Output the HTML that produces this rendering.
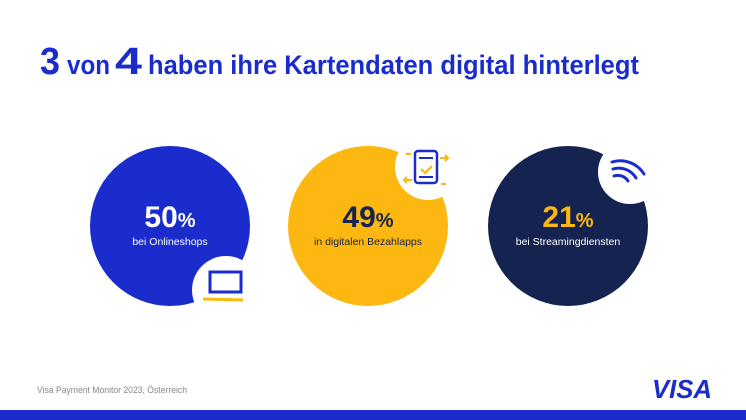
<!DOCTYPE html>
<html><head><meta charset="utf-8"><style>
html,body{margin:0;padding:0;background:#fff;}
svg{display:block}
</style></head><body>
<svg width="746" height="420" viewBox="0 0 746 420" xmlns="http://www.w3.org/2000/svg" font-family="Liberation Sans, sans-serif">
<rect width="746" height="420" fill="#fff"/>
<text x="40" y="74" fill="#1a2ccb" font-weight="bold"><tspan font-size="38" textLength="20" lengthAdjust="spacingAndGlyphs">3</tspan><tspan x="67" font-size="27" textLength="43" lengthAdjust="spacingAndGlyphs">von</tspan><tspan x="115" font-size="38" textLength="27" lengthAdjust="spacingAndGlyphs">4</tspan><tspan x="148" font-size="27" textLength="491" lengthAdjust="spacingAndGlyphs">haben ihre Kartendaten digital hinterlegt</tspan></text>

<circle cx="170" cy="226" r="80" fill="#1a2ccb"/>
<circle cx="226" cy="290" r="34" fill="#fff"/>
<rect x="210" y="272" width="31" height="20" fill="none" stroke="#1a2ccb" stroke-width="3"/>
<line x1="203" y1="299" x2="243" y2="300" stroke="#fcb711" stroke-width="3"/>
<text x="170" y="227" text-anchor="middle" fill="#fff" font-weight="bold"><tspan font-size="30">50</tspan><tspan font-size="20">%</tspan></text>
<text x="170" y="245" text-anchor="middle" fill="#fff" font-size="10.5">bei Onlineshops</text>

<circle cx="368" cy="226" r="80" fill="#fcb711"/>
<circle cx="428" cy="167" r="33" fill="#fff"/>
<rect x="415" y="151" width="22" height="32" rx="3" fill="none" stroke="#1a2ccb" stroke-width="2.5"/>
<line x1="419" y1="158" x2="433" y2="158" stroke="#1a2ccb" stroke-width="2"/>
<line x1="419" y1="177" x2="433" y2="177" stroke="#1a2ccb" stroke-width="2"/>
<path d="M421 169 l4 4 l7 -7" fill="none" stroke="#fcb711" stroke-width="2.2"/>
<path d="M440 158 h8 m-3 -3 l3 3 l-3 3" fill="none" stroke="#fcb711" stroke-width="2"/>
<path d="M412 180 h-8 m3 -3 l-3 3 l3 3" fill="none" stroke="#fcb711" stroke-width="2"/>
<line x1="406" y1="154" x2="411" y2="154" stroke="#fcb711" stroke-width="2"/>
<line x1="441" y1="184" x2="446" y2="184" stroke="#fcb711" stroke-width="2"/>
<text x="368" y="227" text-anchor="middle" fill="#14234f" font-weight="bold"><tspan font-size="30">49</tspan><tspan font-size="20">%</tspan></text>
<text x="368" y="245" text-anchor="middle" fill="#14234f" font-size="10.5">in digitalen Bezahlapps</text>

<circle cx="568" cy="226" r="80" fill="#14234f"/>
<circle cx="630" cy="172" r="32" fill="#fff"/>
<g fill="none" stroke="#1a2ccb" stroke-width="3" stroke-linecap="round">
<path d="M612 162 A28 28 0 0 1 644 174"/>
<path d="M613 169 A20 20 0 0 1 636 178"/>
<path d="M614 176 A12 12 0 0 1 628 181"/>
</g>
<text x="568" y="227" text-anchor="middle" fill="#fcb711" font-weight="bold"><tspan font-size="30">21</tspan><tspan font-size="20">%</tspan></text>
<text x="568" y="245" text-anchor="middle" fill="#fff" font-size="10.5">bei Streamingdiensten</text>

<text x="37" y="393" fill="#888" font-size="9" textLength="150" lengthAdjust="spacingAndGlyphs">Visa Payment Monitor 2023, Österreich</text>
<text x="652" y="398" fill="#1a2ccb" font-size="26" font-weight="bold" font-style="italic" textLength="60" lengthAdjust="spacingAndGlyphs">VISA</text>
<rect x="0" y="410" width="746" height="10" fill="#1a2ccb"/>
</svg>
</body></html>
